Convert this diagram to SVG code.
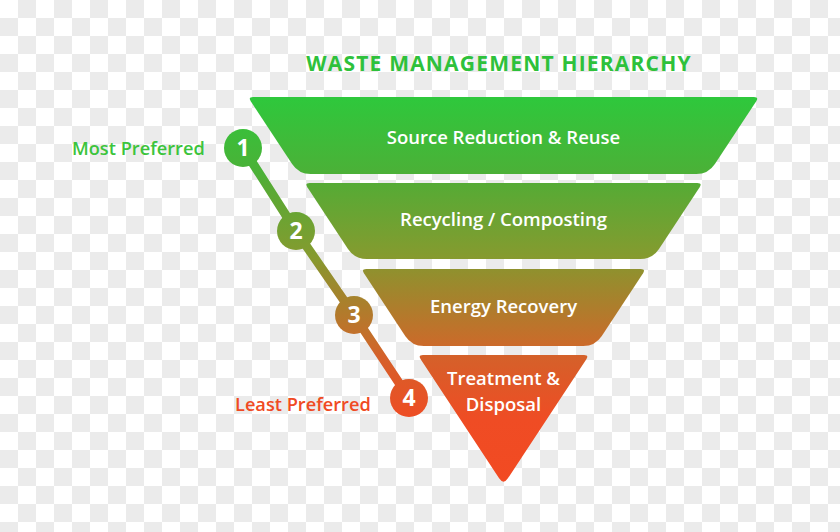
<svg xmlns="http://www.w3.org/2000/svg" width="840" height="532" viewBox="0 0 840 532">
<defs>
<pattern id="chk" width="36" height="36" patternUnits="userSpaceOnUse">
<rect width="36" height="36" fill="#ffffff"/>
<rect x="18" y="0" width="18" height="18" fill="#ebebeb"/>
<rect x="0" y="18" width="18" height="18" fill="#ebebeb"/>
</pattern>
<linearGradient id="g" gradientUnits="userSpaceOnUse" x1="0" y1="97" x2="0" y2="485">
<stop offset="0" stop-color="#2ec83c"/>
<stop offset="0.201" stop-color="#4cb037"/>
<stop offset="0.222" stop-color="#55ab35"/>
<stop offset="0.418" stop-color="#879a2f"/>
<stop offset="0.443" stop-color="#8f912e"/>
<stop offset="0.642" stop-color="#cc6a2a"/>
<stop offset="0.665" stop-color="#d4612a"/>
<stop offset="0.832" stop-color="#ef4c24"/>
<stop offset="1" stop-color="#f24a22"/>
</linearGradient>
<style>
.tier{fill:url(#g)}
.lbl{font-family:"Open Sans","Liberation Sans",sans-serif;font-weight:650;fill:#ffffff;font-size:18.5px;text-anchor:middle}
.num{font-family:"Open Sans","Liberation Sans",sans-serif;font-weight:700;fill:#ffffff;font-size:23px;text-anchor:middle}
.side{font-family:"Open Sans","Liberation Sans",sans-serif;font-weight:650;font-size:18.2px}
.dot{fill:url(#g)}
</style>
</defs>
<rect width="840" height="532" fill="url(#chk)"/>
<text id="title" x="499" y="71" font-family="'Open Sans','Liberation Sans',sans-serif" font-weight="700" font-size="21" letter-spacing="1.2" fill="#2ec13b" text-anchor="middle">WASTE MANAGEMENT HIERARCHY</text>
<g id="tier1">
<path class="tier" d="M253,97 L754,97 Q759,97 756.25,101.2 L714.9,164 Q708.3,174 696.3,174 L310.7,174 Q298.7,174 292.1,164 L250.75,101.2 Q248,97 253,97 Z"/>
<text class="lbl" x="503.5" y="144">Source Reduction &amp; Reuse</text>
</g>
<g id="tier2">
<path class="tier" d="M309.6,183 L697.4,183 Q702.4,183 699.65,187.2 L659,249 Q652.4,259 640.4,259 L366.6,259 Q354.6,259 348,249 L307.35,187.2 Q304.6,183 309.6,183 Z"/>
<text class="lbl" x="503.5" y="226">Recycling / Composting</text>
</g>
<g id="tier3">
<path class="tier" d="M366.2,269 L640.8,269 Q645.8,269 643.05,273.2 L601.8,336 Q595.2,346 583.2,346 L423.8,346 Q411.8,346 405.2,336 L363.95,273.2 Q361.2,269 366.2,269 Z"/>
<text class="lbl" x="503.5" y="313">Energy Recovery</text>
</g>
<g id="tier4">
<path class="tier" d="M422.9,355 L584.1,355 Q589.1,355 586.35,359.2 L507.9,478.3 Q503.5,485 499.1,478.3 L420.65,359.2 Q417.9,355 422.9,355 Z"/>
<text class="lbl" x="503.5" y="385">Treatment &amp;</text>
<text class="lbl" x="503.5" y="411">Disposal</text>
</g>
<g id="connectors">
<polyline points="243,148 296,231 354,315 409,398" fill="none" stroke="url(#g)" stroke-width="9" stroke-linejoin="round"/>
</g>
<g id="step1"><circle class="dot" cx="243" cy="148" r="19"/><text class="num" x="243" y="156">1</text></g>
<g id="step2"><circle class="dot" cx="296" cy="231" r="19"/><text class="num" x="296" y="239">2</text></g>
<g id="step3"><circle class="dot" cx="354" cy="315" r="19"/><text class="num" x="354" y="323">3</text></g>
<g id="step4"><circle class="dot" cx="409" cy="398" r="19"/><text class="num" x="409" y="406">4</text></g>
<g id="most"><text class="side" x="72" y="155" fill="#3cc43c">Most Preferred</text></g>
<g id="least"><text class="side" x="235" y="411" fill="#f04a23">Least Preferred</text></g>
</svg>
